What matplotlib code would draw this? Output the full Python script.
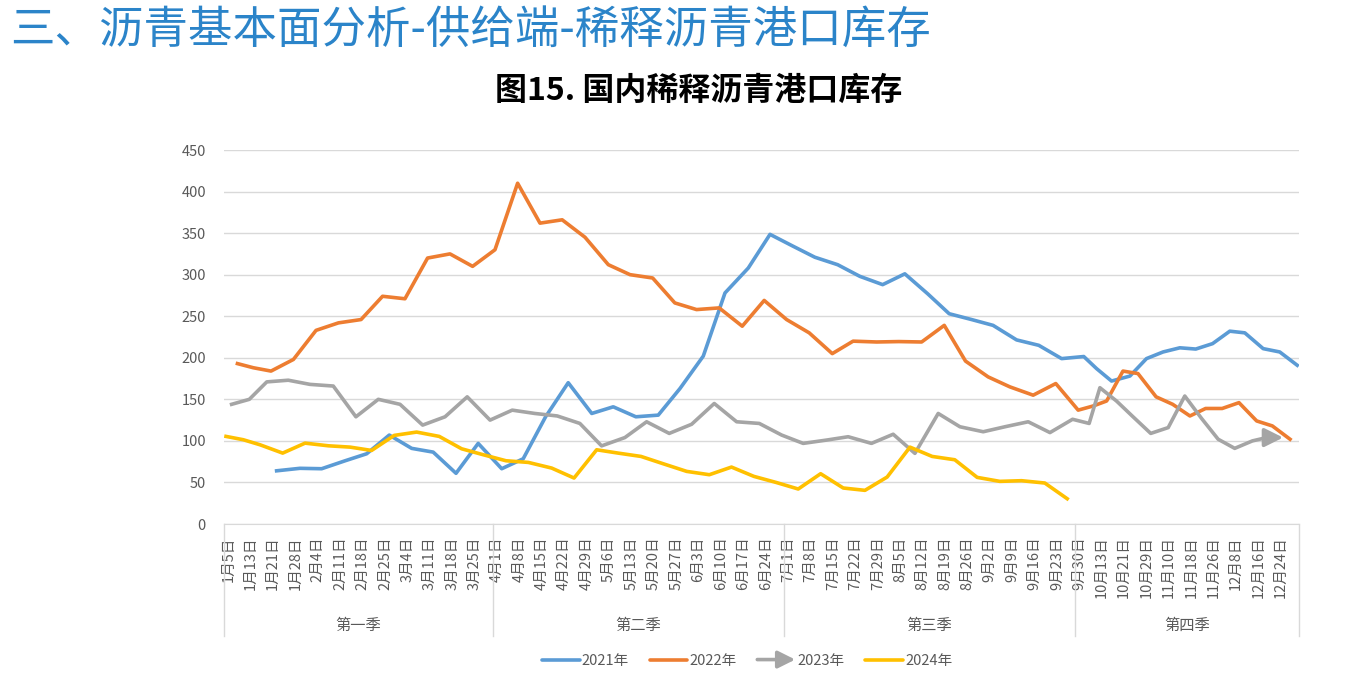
import matplotlib
matplotlib.use("Agg")
import matplotlib.pyplot as plt
from matplotlib.legend_handler import HandlerBase
from matplotlib.lines import Line2D
from matplotlib.patches import FancyArrowPatch

plt.rcParams['font.family'] = ['Noto Sans CJK SC', 'DejaVu Sans']

# category labels (x axis) and quarter groups
dates = ["1月5日", "1月13日", "1月21日", "1月28日", "2月4日", "2月11日", "2月18日", "2月25日",
         "3月4日", "3月11日", "3月18日", "3月25日",
         "4月1日", "4月8日", "4月15日", "4月22日", "4月29日", "5月6日", "5月13日", "5月20日",
         "5月27日", "6月3日", "6月10日", "6月17日", "6月24日",
         "7月1日", "7月8日", "7月15日", "7月22日", "7月29日", "8月5日", "8月12日", "8月19日",
         "8月26日", "9月2日", "9月9日", "9月16日", "9月23日",
         "9月30日", "10月13日", "10月21日", "10月29日", "11月10日", "11月18日", "11月26日",
         "12月8日", "12月16日", "12月24日"]
quarters = ["第一季", "第二季", "第三季", "第四季"]
quarter_sizes = [12, 13, 13, 10]

# series: position on the category axis + value
x21 = [1.85, 2.89, 3.86, 4.90, 5.87, 6.88, 7.88, 8.84, 9.86, 10.85, 11.90, 12.86, 13.86, 14.87,
       15.92, 16.88, 17.89, 18.89, 19.86, 20.90, 21.87, 22.91, 23.88, 24.89, 25.88, 26.90,
       27.89, 28.91, 29.90, 30.92, 31.88, 32.88, 33.84, 34.89, 35.88, 36.90, 37.89, 38.46,
       39.13, 39.95, 40.69, 41.43, 42.18, 42.89, 43.64, 44.41, 45.08, 45.90, 46.64, 47.42]
y21 = [64, 67, 66.5, 76, 84.5, 107, 91, 86.5, 61, 97, 66.5, 78.5, 129, 170,
       133, 141, 129, 131, 163, 202, 278, 308, 348.5, 334.5, 321, 312,
       298, 288, 301, 277, 253, 246, 239, 221.5, 215, 199, 201.5, 187,
       172, 178, 199, 207, 212, 210.5, 217, 232, 230, 211, 207, 191]

x22 = [0.10, 0.81, 1.60, 2.60, 3.61, 4.61, 5.62, 6.58, 7.58, 8.59, 9.59, 10.60, 11.60, 12.61,
       13.61, 14.60, 15.62, 16.66, 17.63, 18.64, 19.63, 20.60, 21.61, 22.64, 23.62, 24.62,
       25.63, 26.66, 27.59, 28.64, 29.63, 30.65, 31.66, 32.61, 33.62, 34.59, 35.63, 36.64,
       37.64, 38.31, 38.91, 39.64, 40.31, 41.12, 41.86, 42.63, 43.33, 44.07, 44.82, 45.61,
       46.31, 47.10]
y22 = [193, 188, 184, 198, 233, 242, 246, 274, 271, 320, 325, 310, 330, 410,
       362, 366, 345, 312, 300, 296, 266, 258, 260, 238, 269, 246,
       230, 205, 220, 219, 219.5, 219, 239, 196, 177, 165, 155, 169,
       137, 142, 148, 184, 181, 153, 144, 130, 139, 139, 146, 124,
       118, 102]

x23 = [-0.16, 0.63, 1.41, 2.37, 3.34, 4.38, 5.39, 6.39, 7.36, 8.37, 9.37, 10.36, 11.38, 12.37,
       13.38, 14.38, 15.39, 16.36, 17.40, 18.37, 19.38, 20.38, 21.39, 22.39, 23.40, 24.40,
       25.36, 26.41, 27.37, 28.41, 29.38, 30.35, 31.39, 32.36, 33.40, 34.37, 35.41, 36.38,
       37.39, 38.13, 38.61, 39.35, 40.09, 40.88, 41.66, 42.40, 43.15, 43.89, 44.63, 45.42,
       46.06, 46.79]
y23 = [144, 150, 171, 173, 168, 166, 129, 150, 144, 119, 129, 153, 125, 137,
       133, 130, 121, 94, 104, 123, 109, 120, 145, 123, 121, 107,
       97, 101, 105, 97, 108, 85, 133, 117, 111, 117, 123, 110,
       126, 121, 164, 148, 129, 109, 116, 154, 127, 102, 91, 100,
       104, 104]

x24 = [-0.41, 0.36, 1.11, 2.12, 3.12, 4.16, 5.13, 6.09, 7.10, 8.10, 9.11, 10.11, 11.08, 12.09,
       13.09, 14.13, 15.13, 16.14, 17.10, 18.12, 19.11, 20.16, 21.17, 22.16, 23.16, 24.14,
       25.14, 26.14, 27.15, 28.12, 29.11, 30.13, 31.12, 32.13, 33.13, 34.14, 35.11, 36.15,
       37.15]
y24 = [105.4, 101.4, 95.3, 85.3, 97.3, 94.1, 92.5, 88.5, 106.6, 110.6, 105.4, 90.5, 83.3, 76.1,
       74.1, 67.3, 55.3, 89.3, 85.3, 81.3, 72.5, 63.3, 59.3, 68.5, 57.3, 50.1,
       42.1, 60.5, 43.3, 40.5, 56.5, 92.5, 81.3, 77.3, 56.1, 51.3, 52.1, 49.3,
       30.4]

c21, c22, c23, c24 = "#5B9BD5", "#ED7D31", "#A5A5A5", "#FFC000"
txt = "#595959"
lw = 2.6

fig = plt.figure(figsize=(13.46, 6.79), dpi=100)
ax = fig.add_axes([224 / 1346, 1 - 524 / 679, 1075 / 1346, 374 / 679])

ax.plot(x21, y21, color=c21, lw=lw, solid_joinstyle='round')
ax.plot(x22, y22, color=c22, lw=lw, solid_joinstyle='round')
ax.plot(x23[:-1], y23[:-1], color=c23, lw=lw, solid_joinstyle='round')
ax.annotate('', xy=(x23[-1], y23[-1]), xytext=(x23[-2], y23[-2]),
            arrowprops=dict(arrowstyle='-|>', color=c23, lw=lw, mutation_scale=28,
                            shrinkA=0, shrinkB=0))
ax.plot(x24, y24, color=c24, lw=lw, solid_joinstyle='round')

ax.set_xlim(-0.5, len(dates) - 0.5)
ax.set_ylim(0, 450)
ax.set_yticks(range(0, 451, 50))
ax.grid(axis='y', color='#D9D9D9', lw=1)
ax.set_axisbelow(True)
for s in ['top', 'right', 'left']:
    ax.spines[s].set_visible(False)
ax.spines['bottom'].set_color('#D9D9D9')
ax.tick_params(axis='y', length=0, pad=13, labelsize=10.5, labelcolor=txt)

ax.set_xticks(range(len(dates)))
ax.set_xticklabels(dates, rotation=90, ha='right', va='top')
ax.tick_params(axis='x', length=0, pad=9, labelsize=10.5, labelcolor=txt)

# quarter group labels and dividers
trans = ax.get_xaxis_transform()
edges = [-0.5]
for n in quarter_sizes:
    edges.append(edges[-1] + n)
for e in edges:
    ax.plot([e, e], [0, -0.30], color='#D9D9D9', lw=1, transform=trans, clip_on=False)
for q, a, b in zip(quarters, edges[:-1], edges[1:]):
    ax.text((a + b) / 2, -0.272, q, transform=trans, ha='center', va='center',
            fontsize=11, color=txt)


class ArrowHandler(HandlerBase):
    def create_artists(self, legend, orig_handle, xdescent, ydescent, width, height,
                       fontsize, trans):
        p = FancyArrowPatch((-xdescent, height / 2 - ydescent),
                            (width - xdescent, height / 2 - ydescent),
                            arrowstyle='-|>', mutation_scale=26, color=c23, lw=lw,
                            shrinkA=0, shrinkB=0)
        p.set_transform(trans)
        return [p]


h21 = Line2D([], [], color=c21, lw=lw, solid_capstyle='round')
h22 = Line2D([], [], color=c22, lw=lw, solid_capstyle='round')
h23 = FancyArrowPatch((0, 0), (1, 0))
h24 = Line2D([], [], color=c24, lw=lw, solid_capstyle='round')
fig.legend([h21, h22, h23, h24], ["2021年", "2022年", "2023年", "2024年"],
           handler_map={FancyArrowPatch: ArrowHandler()},
           loc='center', bbox_to_anchor=(0.555, 0.027), ncol=4, frameon=False,
           fontsize=10.5, labelcolor=txt, handlelength=2.6, handletextpad=0.15,
           columnspacing=1.4)

fig.text(10 / 1346, 1 - 30 / 679, "三、沥青基本面分析-供给端-稀释沥青港口库存",
         fontsize=32, color="#2B84C9", ha='left', va='center')
fig.text(0.519, 1 - 91 / 679, "图15. 国内稀释沥青港口库存", fontsize=23,
         fontweight='bold', color='black', ha='center', va='center')

fig.savefig("out.png", dpi=100)
